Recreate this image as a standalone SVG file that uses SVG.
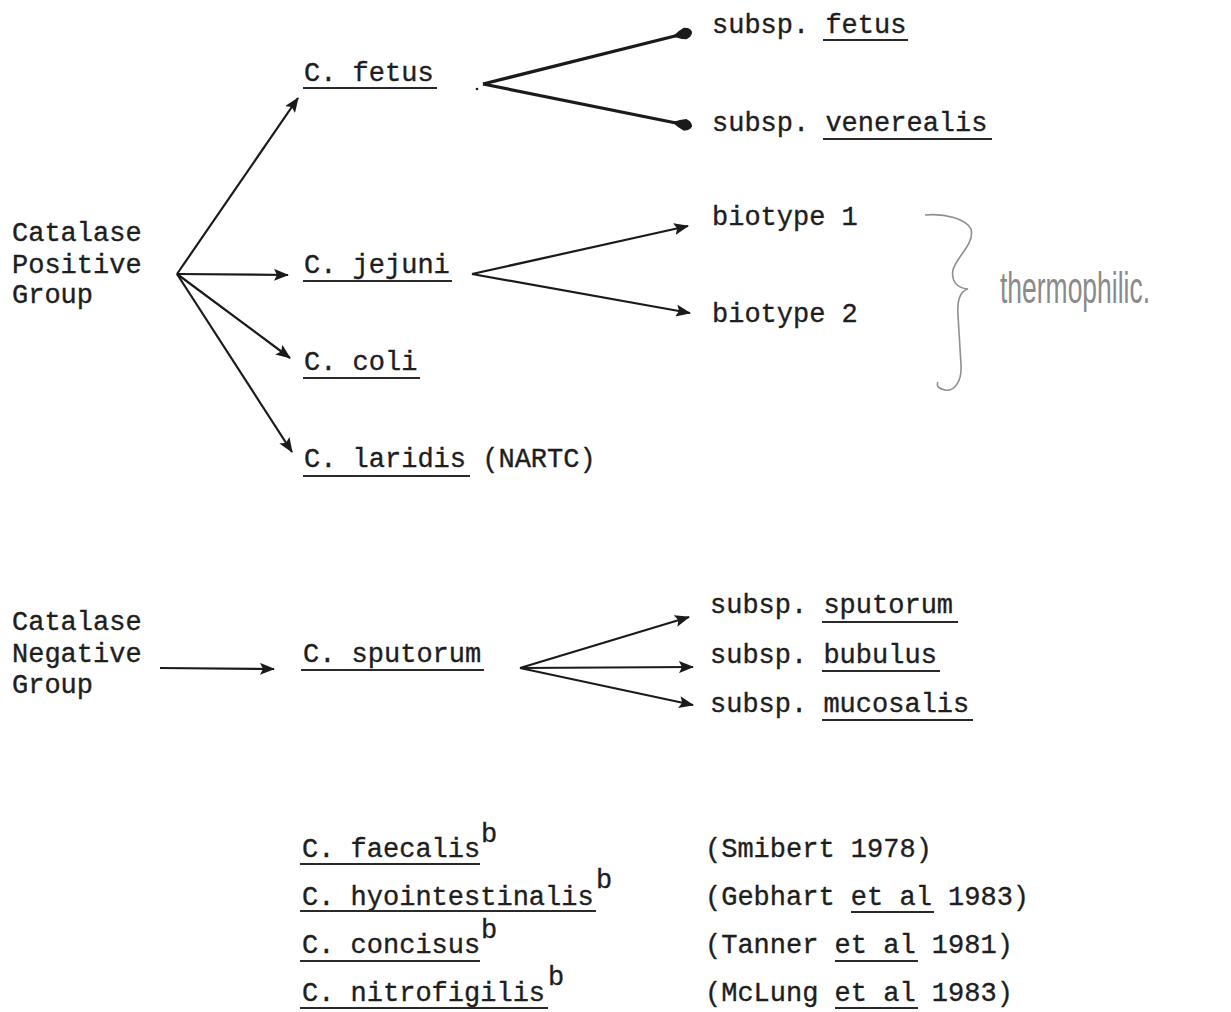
<svg xmlns="http://www.w3.org/2000/svg" width="1231" height="1012" viewBox="0 0 1231 1012">
<style>
  text { font-family: "Liberation Mono", "DejaVu Sans Mono", monospace; font-size: 27px; fill: #1e1e1e; stroke: #1e1e1e; stroke-width: 0.35; }
  .ul { stroke: #2a2a2a; stroke-width: 2; fill: none; }
  .ar { stroke: #1a1a1a; stroke-width: 2.2; fill: none; marker-end: url(#tri); }
  .thick { stroke: #1a1a1a; stroke-width: 3.2; fill: none; marker-end: url(#drop); }
  .hand { font-family: "Liberation Sans", "DejaVu Sans", sans-serif; font-size: 30px; fill: #8a8a8a; stroke: none; }
  .brace { stroke: #8f8f8f; stroke-width: 1.6; fill: none; }
  .dot { fill: #1a1a1a; }
</style>
<defs>
  <marker id="tri" markerUnits="userSpaceOnUse" markerWidth="16" markerHeight="12" refX="14" refY="6" orient="auto">
    <path d="M0,0 L15,6 L0,12 L3,6 z" fill="#1a1a1a"/>
  </marker>
  <marker id="drop" markerUnits="userSpaceOnUse" markerWidth="22" markerHeight="14" refX="19" refY="7" orient="auto">
    <path d="M0,7 Q7,2.5 13,1 L17,2.5 Q20,5 20,7 Q20,9 17,11.5 L13,13 Q7,11.5 0,7 z" fill="#1a1a1a"/>
  </marker>
</defs>

<g id="connectors">
  <!-- Catalase positive fan -->
  <line class="ar" x1="177" y1="274" x2="298" y2="98"/>
  <line class="ar" x1="177" y1="274" x2="288" y2="275"/>
  <line class="ar" x1="177" y1="274" x2="290" y2="358"/>
  <line class="ar" x1="177" y1="274" x2="292" y2="452"/>
  <!-- C. fetus fork -->
  <circle class="dot" cx="477" cy="89" r="1.3"/>
  <line class="thick" x1="483" y1="84" x2="691" y2="32"/>
  <line class="thick" x1="483" y1="84" x2="691" y2="126"/>
  <!-- C. jejuni fork -->
  <line class="ar" x1="472" y1="274" x2="688" y2="226"/>
  <line class="ar" x1="472" y1="274" x2="690" y2="313"/>
  <!-- Catalase negative -->
  <line class="ar" x1="160" y1="668" x2="274" y2="669"/>
  <!-- C. sputorum fork -->
  <line class="ar" x1="520" y1="668" x2="689" y2="617"/>
  <line class="ar" x1="520" y1="668" x2="693" y2="667"/>
  <line class="ar" x1="520" y1="668" x2="693" y2="705"/>
</g>

<g id="catalase-positive">
  <text x="12" y="241">Catalase</text>
  <text x="12" y="273">Positive</text>
  <text x="12" y="303">Group</text>
</g>

<g id="c-fetus">
  <text x="304" y="81">C. fetus</text>
  <line class="ul" x1="303" y1="88" x2="437" y2="88"/>
</g>
<g id="subsp-fetus">
  <text x="712" y="33">subsp. fetus</text>
  <line class="ul" x1="823" y1="40" x2="908" y2="40"/>
</g>
<g id="subsp-venerealis">
  <text x="712" y="131">subsp. venerealis</text>
  <line class="ul" x1="823" y1="139" x2="992" y2="139"/>
</g>

<g id="c-jejuni">
  <text x="304" y="273">C. jejuni</text>
  <line class="ul" x1="303" y1="281" x2="452" y2="281"/>
</g>
<g id="biotype-1">
  <text x="712" y="225">biotype 1</text>
</g>
<g id="biotype-2">
  <text x="712" y="322">biotype 2</text>
</g>

<g id="thermophilic">
  <path class="brace" d="M925,215 C945,213 966,219 971,229 C975,244 956,257 953,270 C951,280 956,288 968,289 C960,291 957,299 958,315 L961,365 C962,380 955,392 945,390 C939,389 936,386 938,382"/>
  <text class="hand" transform="translate(1000,303) scale(1,1.45)" x="0" y="0" textLength="150" lengthAdjust="spacingAndGlyphs">thermophilic.</text>
</g>

<g id="c-coli">
  <text x="304" y="370">C. coli</text>
  <line class="ul" x1="303" y1="378" x2="420" y2="378"/>
</g>

<g id="c-laridis">
  <text x="304" y="467">C. laridis (NARTC)</text>
  <line class="ul" x1="303" y1="476" x2="470" y2="476"/>
</g>

<g id="catalase-negative">
  <text x="12" y="630">Catalase</text>
  <text x="12" y="662">Negative</text>
  <text x="12" y="693">Group</text>
</g>

<g id="c-sputorum">
  <text x="303" y="662">C. sputorum</text>
  <line class="ul" x1="301" y1="670" x2="484" y2="670"/>
</g>
<g id="subsp-sputorum">
  <text x="710" y="613">subsp. sputorum</text>
  <line class="ul" x1="822" y1="622" x2="958" y2="622"/>
</g>
<g id="subsp-bubulus">
  <text x="710" y="663">subsp. bubulus</text>
  <line class="ul" x1="822" y1="671" x2="940" y2="671"/>
</g>
<g id="subsp-mucosalis">
  <text x="710" y="712">subsp. mucosalis</text>
  <line class="ul" x1="822" y1="720" x2="973" y2="720"/>
</g>

<g id="c-faecalis">
  <text x="302" y="857">C. faecalis</text>
  <text x="481" y="842">b</text>
  <line class="ul" x1="300" y1="864" x2="480" y2="864"/>
  <text x="705" y="857">(Smibert 1978)</text>
</g>
<g id="c-hyointestinalis">
  <text x="302" y="905">C. hyointestinalis</text>
  <text x="596" y="888">b</text>
  <line class="ul" x1="300" y1="911" x2="596" y2="911"/>
  <text x="705" y="905">(Gebhart et al 1983)</text>
  <line class="ul" x1="851" y1="912" x2="934" y2="912"/>
</g>
<g id="c-concisus">
  <text x="302" y="953">C. concisus</text>
  <text x="481" y="938">b</text>
  <line class="ul" x1="300" y1="961" x2="480" y2="961"/>
  <text x="705" y="953">(Tanner et al 1981)</text>
  <line class="ul" x1="835" y1="961" x2="918" y2="961"/>
</g>
<g id="c-nitrofigilis">
  <text x="302" y="1001">C. nitrofigilis</text>
  <text x="548" y="985">b</text>
  <line class="ul" x1="300" y1="1008" x2="548" y2="1008"/>
  <text x="705" y="1001">(McLung et al 1983)</text>
  <line class="ul" x1="835" y1="1008" x2="918" y2="1008"/>
</g>
</svg>
